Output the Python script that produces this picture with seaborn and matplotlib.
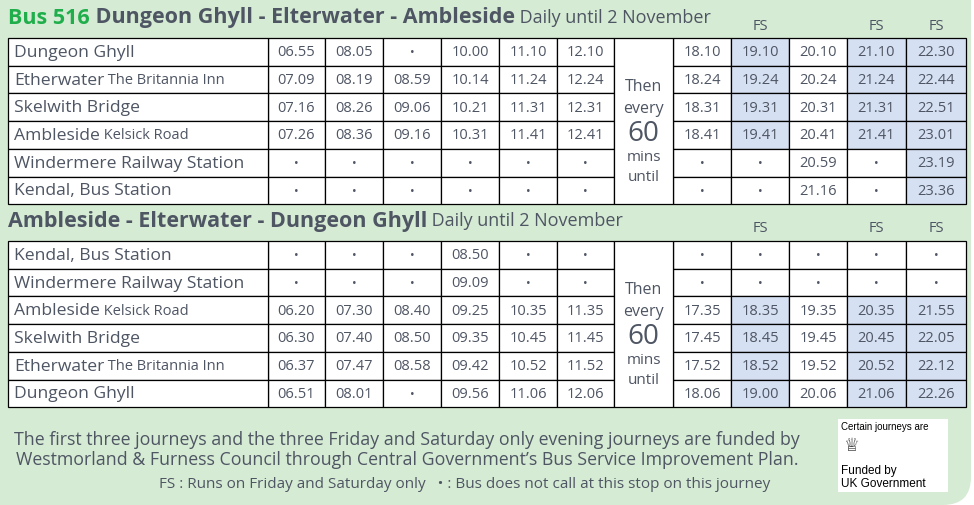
import matplotlib
matplotlib.use("Agg")
import matplotlib.pyplot as plt
from matplotlib.patches import Rectangle, FancyBboxPatch
import seaborn as sns

sns.set_theme(style="white")
plt.rcParams['font.family'] = ['Open Sans', 'DejaVu Sans']

BG = "#d6ebd4"; TXT = "#4e5563"; GREEN = "#1fae4b"; BLUE = "#d5e0f2"

top_stops = [("Dungeon Ghyll", ""), ("Etherwater", " The Britannia Inn"), ("Skelwith Bridge", ""),
             ("Ambleside", " Kelsick Road"), ("Windermere Railway Station", ""), ("Kendal, Bus Station", "")]
top_times = [
    ["06.55", "08.05", "•", "10.00", "11.10", "12.10", "18.10", "19.10", "20.10", "21.10", "22.30"],
    ["07.09", "08.19", "08.59", "10.14", "11.24", "12.24", "18.24", "19.24", "20.24", "21.24", "22.44"],
    ["07.16", "08.26", "09.06", "10.21", "11.31", "12.31", "18.31", "19.31", "20.31", "21.31", "22.51"],
    ["07.26", "08.36", "09.16", "10.31", "11.41", "12.41", "18.41", "19.41", "20.41", "21.41", "23.01"],
    ["•", "•", "•", "•", "•", "•", "•", "•", "20.59", "•", "23.19"],
    ["•", "•", "•", "•", "•", "•", "•", "•", "21.16", "•", "23.36"],
]
bot_stops = [("Kendal, Bus Station", ""), ("Windermere Railway Station", ""), ("Ambleside", " Kelsick Road"),
             ("Skelwith Bridge", ""), ("Etherwater", " The Britannia Inn"), ("Dungeon Ghyll", "")]
bot_times = [
    ["•", "•", "•", "08.50", "•", "•", "•", "•", "•", "•", "•"],
    ["•", "•", "•", "09.09", "•", "•", "•", "•", "•", "•", "•"],
    ["06.20", "07.30", "08.40", "09.25", "10.35", "11.35", "17.35", "18.35", "19.35", "20.35", "21.55"],
    ["06.30", "07.40", "08.50", "09.35", "10.45", "11.45", "17.45", "18.45", "19.45", "20.45", "22.05"],
    ["06.37", "07.47", "08.58", "09.42", "10.52", "11.52", "17.52", "18.52", "19.52", "20.52", "22.12"],
    ["06.51", "08.01", "•", "09.56", "11.06", "12.06", "18.06", "19.00", "20.06", "21.06", "22.26"],
]
fs_cols = [7, 9, 10]
top_title = ("Dungeon Ghyll - Elterwater - Ambleside", "Daily until 2 November")
bot_title = ("Ambleside - Elterwater - Dungeon Ghyll", "Daily until 2 November")

fig = plt.figure(figsize=(9.74, 5.05), dpi=100)
fig.patch.set_facecolor("white")
ax = fig.add_axes([0, 0, 1, 1])
ax.set_xlim(0, 974); ax.set_ylim(505, 0); ax.axis("off")
ax.add_patch(FancyBboxPatch((-30, -30), 1001, 535, boxstyle="round,pad=0,rounding_size=28",
                            fc=BG, ec="none"))

name_x0, name_x1 = 8, 268
col_edges_left = [268, 325, 383, 441, 499, 557, 614]
mid = (614, 673)
col_edges_right = [673, 731, 789, 847, 906, 966]

def time_cols():
    cols = [(col_edges_left[i], col_edges_left[i + 1]) for i in range(6)]
    cols += [(col_edges_right[i], col_edges_right[i + 1]) for i in range(5)]
    return cols

def draw_table(y0, rh, stops, times):
    cols = time_cols()
    n = len(stops)
    for r in range(n):
        y = y0 + r * rh
        for c, (xa, xb) in enumerate(cols):
            v = times[r][c]
            fc = BLUE if (c in fs_cols and v != "•") else "white"
            ax.add_patch(Rectangle((xa, y), xb - xa, rh, fc=fc, ec="black", lw=0.9))
            ax.text((xa + xb) / 2, y + rh / 2 + 1, v, ha="center", va="center",
                    fontsize=10.5 if v != "•" else 9, color=TXT)
        ax.add_patch(Rectangle((name_x0, y), name_x1 - name_x0, rh, fc="white", ec="black", lw=0.9))
        main, sub = stops[r]
        t = ax.text(name_x0 + 6, y + rh / 2 + 1, main, ha="left", va="center", fontsize=12.6, color=TXT)
        if sub:
            ax.annotate(sub, xy=(1, 0.5), xycoords=t, ha="left", va="center",
                        fontsize=10.5, color=TXT)
    ax.add_patch(Rectangle((mid[0], y0), mid[1] - mid[0], rh * n, fc="white", ec="black", lw=0.9))
    cx = (mid[0] + mid[1]) / 2
    cy = y0 + rh * n / 2
    ax.text(cx, cy - 34, "Then", ha="center", va="center", fontsize=11.5, color=TXT)
    ax.text(cx, cy - 12, "every", ha="center", va="center", fontsize=11.5, color=TXT)
    ax.text(cx, cy + 13, "60", ha="center", va="center", fontsize=20, color=TXT)
    ax.text(cx, cy + 36, "mins", ha="center", va="center", fontsize=11, color=TXT)
    ax.text(cx, cy + 56, "until", ha="center", va="center", fontsize=11, color=TXT)
    for c in fs_cols:
        xa, xb = cols[c]
        ax.text((xa + xb) / 2, y0 - 12, "FS", ha="center", va="center", fontsize=10.5, color=TXT)

# titles
t0 = ax.text(8, 18, "Bus 516", ha="left", va="center", fontsize=15.5, fontweight="bold", color=GREEN)
t1 = ax.annotate(" " + top_title[0], xy=(1, 0.5), xycoords=t0, ha="left", va="center",
                 fontsize=15.5, fontweight="bold", color=TXT)
ax.annotate(" " + top_title[1], xy=(1, 0.5), xycoords=t1, ha="left", va="center", fontsize=13, color=TXT)
draw_table(38, 27.7, top_stops, top_times)

b0 = ax.text(8, 221, bot_title[0], ha="left", va="center", fontsize=15.5, fontweight="bold", color=TXT)
ax.annotate(" " + bot_title[1], xy=(1, 0.5), xycoords=b0, ha="left", va="center", fontsize=13, color=TXT)
draw_table(241, 27.7, bot_stops, bot_times)

ax.text(407, 440, "The first three journeys and the three Friday and Saturday only evening journeys are funded by",
        ha="center", va="center", fontsize=12.8, color=TXT)
ax.text(407, 460, "Westmorland & Furness Council through Central Government\u2019s Bus Service Improvement Plan.",
        ha="center", va="center", fontsize=12.8, color=TXT)
ax.text(465, 485, "FS : Runs on Friday and Saturday only   \u2022 : Bus does not call at this stop on this journey",
        ha="center", va="center", fontsize=11, color=TXT)

# government badge
ax.add_patch(Rectangle((838, 419), 110, 73, fc="white", ec="none"))
ax.text(841, 427, "Certain journeys are", ha="left", va="center", fontsize=7, color="black",
        family=["Liberation Sans"])
ax.text(851, 446, "\u2655", ha="center", va="center", fontsize=13, color="#333333",
        family=["DejaVu Sans"])
ax.text(841, 471, "Funded by", ha="left", va="center", fontsize=8.5, color="black", family=["Liberation Sans"])
ax.text(841, 484, "UK Government", ha="left", va="center", fontsize=8.5, color="black", family=["Liberation Sans"])

fig.savefig("out.png", dpi=100, facecolor=fig.get_facecolor())
